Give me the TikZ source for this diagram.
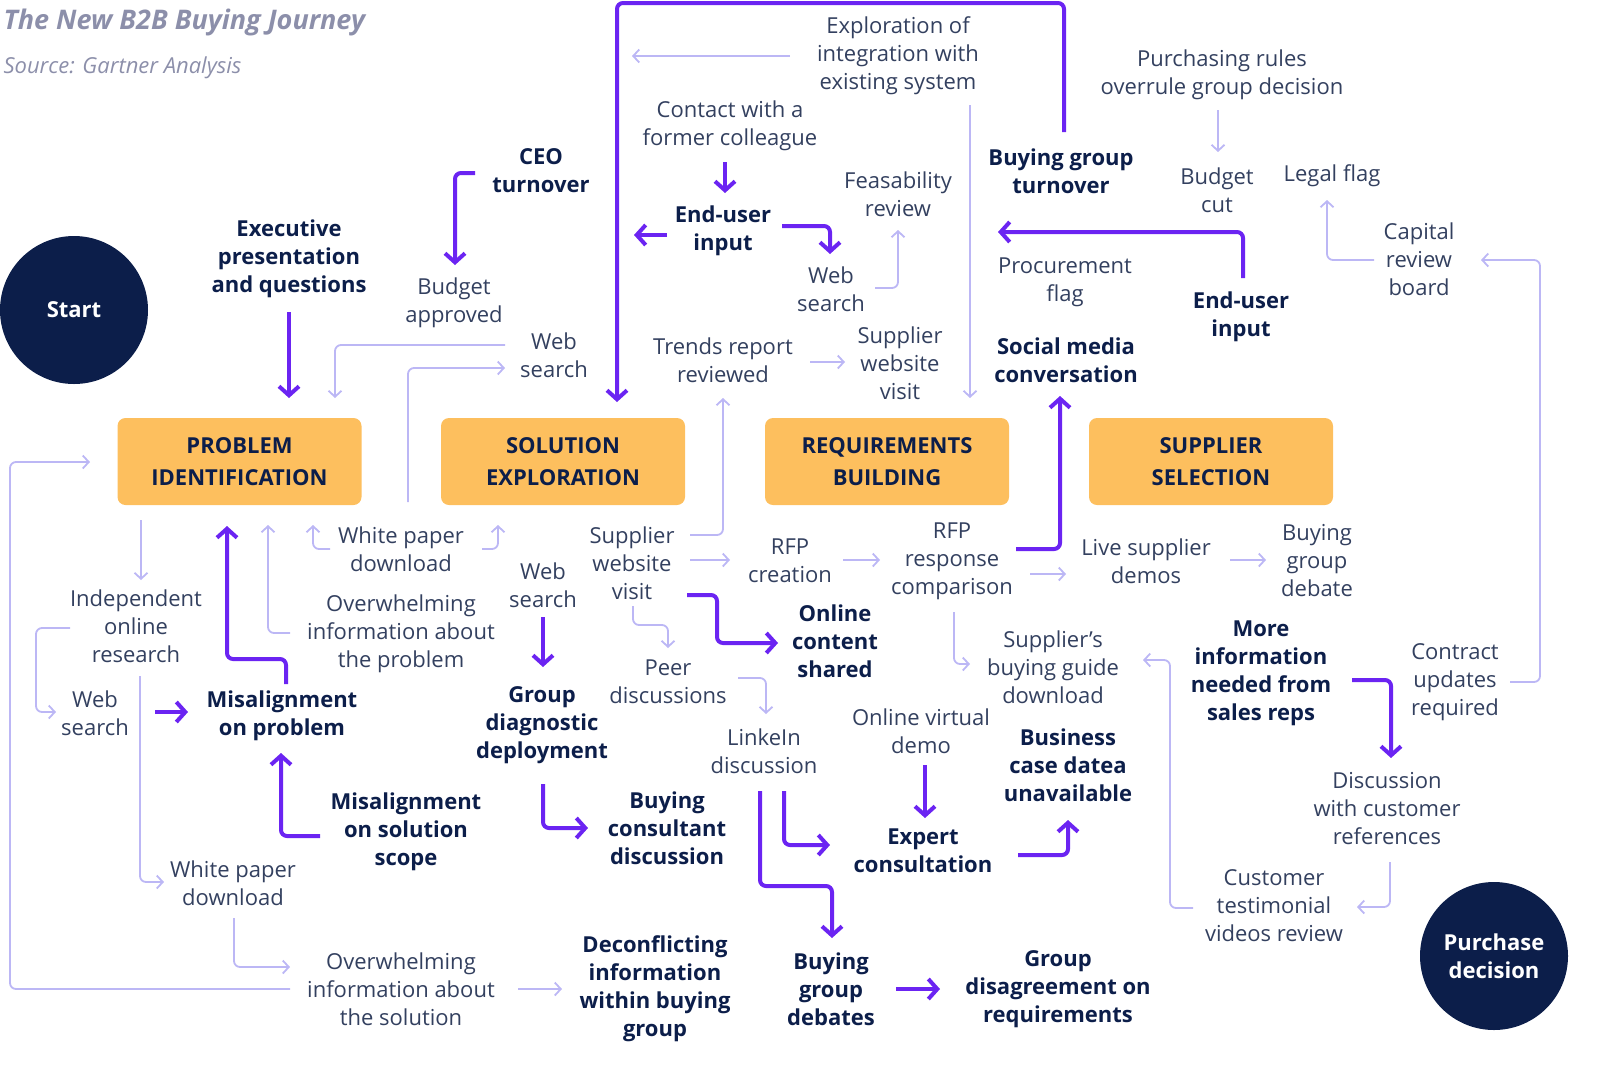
\documentclass[tikz,border=0pt]{standalone}
\usepackage{fontspec}
\setmainfont{Open Sans}
\usetikzlibrary{arrows.meta}
\definecolor{navy}{HTML}{0C1E4A}
\definecolor{txt}{HTML}{33405F}
\definecolor{pur}{HTML}{6B24F2}
\definecolor{lav}{HTML}{BCB7F5}
\definecolor{org}{HTML}{FDBF5E}
\definecolor{ttl}{HTML}{8C8FAA}
\begin{document}
\begin{tikzpicture}[x=1pt,y=-1pt,
 t/.style={align=center,text=txt,font=\fontsize{22}{28}\selectfont,inner sep=1pt},
 b/.style={align=center,text=navy,font=\bfseries\fontsize{22}{28}\selectfont,inner sep=1pt},
 box/.style={fill=org,rounded corners=8pt,minimum width=244pt,minimum height=87pt,align=center,text=navy,font=\bfseries\fontsize{22}{32}\selectfont},
 circ/.style={circle,fill=navy,minimum size=148pt,align=center,text=white,font=\bfseries\fontsize{22}{28}\selectfont},
 P/.style={draw=pur,line width=4pt,rounded corners=6pt,-{Straight Barb[length=9pt,width=20pt,line width=4pt]}},
 L/.style={draw=lav,line width=1.8pt,rounded corners=6pt,-{Straight Barb[length=6pt,width=13pt,line width=1.8pt]}}]
\useasboundingbox (0,0) rectangle (1600,1066);
\node[anchor=west,text=ttl,font=\bfseries\itshape\fontsize{27}{30}\selectfont] (title) at (0,22) {The New B2B Buying Journey};
\node[anchor=west,text=ttl,font=\itshape\fontsize{22}{28}\selectfont] (src) at (0,68) {Source: Gartner Analysis};
\node[circ] (start) at (74,310) {Start};
\node[circ] (pd) at (1494,956) {Purchase\\decision};
\node[box] (b1) at (239.5,461.5) {PROBLEM\\IDENTIFICATION};
\node[box] (b2) at (563,461.5) {SOLUTION\\EXPLORATION};
\node[box] (b3) at (887,461.5) {REQUIREMENTS\\BUILDING};
\node[box] (b4) at (1211,461.5) {SUPPLIER\\SELECTION};
% top
\node[b] (exec) at (289,259) {Executive\\presentation\\and questions};
\node[b] (ceo) at (541,171) {CEO\\turnover};
\node[t] (bapp) at (454,303) {Budget\\approved};
\node[t] (ws1) at (554,355) {Web\\search};
\node[t] (expl) at (898,56) {Exploration of\\integration with\\existing system};
\node[t] (cont) at (730,126) {Contact with a\\former colleague};
\node[b] (eu1) at (723,231) {End-user\\input};
\node[t] (feas) at (898,194) {Feasability\\review};
\node[t] (ws2) at (831,289) {Web\\search};
\node[t] (trend) at (723,360) {Trends report\\reviewed};
\node[t] (swv1) at (900,363) {Supplier\\website\\visit};
\node[b] (bgt) at (1061,171) {Buying group\\turnover};
\node[t] (proc) at (1065,282) {Procurement\\flag};
\node[b] (soc) at (1066,360) {Social media\\conversation};
\node[t] (prules) at (1222,75) {Purchasing rules\\overrule group decision};
\node[t] (bcut) at (1217,190) {Budget\\cut};
\node[t] (legal) at (1332,176) {Legal flag};
\node[b] (eu2) at (1241,317) {End-user\\input};
\node[t] (cap) at (1419,259) {Capital\\review\\board};
% bottom
\node[t] (ior) at (136,626) {Independent\\online\\research};
\node[t] (ws3) at (95,713) {Web\\search};
\node[b] (misp) at (282,716) {Misalignment\\on problem};
\node[t] (wp1) at (401,549) {White paper\\download};
\node[t] (ovp) at (401,634) {Overwhelming\\information about\\the problem};
\node[t] (ws4) at (543,585) {Web\\search};
\node[t] (swv2) at (632,563) {Supplier\\website\\visit};
\node[t] (peer) at (668,682) {Peer\\discussions};
\node[b] (gdd) at (542,725) {Group\\diagnostic\\deployment};
\node[b] (miss) at (406,832) {Misalignment\\on solution\\scope};
\node[t] (wp2) at (233,883) {White paper\\download};
\node[t] (ovs) at (401,989) {Overwhelming\\information about\\the solution};
\node[b] (dec) at (655,989) {Deconflicting\\information\\within buying\\group};
\node[t] (rfpc) at (790,561) {RFP\\creation};
\node[t] (rfpr) at (952,561) {RFP\\response\\comparison};
\node[b] (ocs) at (835,641) {Online\\content\\shared};
\node[t] (lnk) at (764,751) {LinkeIn\\discussion};
\node[b] (bcd) at (667,828) {Buying\\consultant\\discussion};
\node[t] (ovd) at (921,731) {Online virtual\\demo};
\node[b] (exp) at (923,851) {Expert\\consultation};
\node[b] (bcase) at (1068,765) {Business\\case datea\\unavailable};
\node[b] (bgd) at (831,989) {Buying\\group\\debates};
\node[b] (gdr) at (1058,989) {Group\\disagreement on\\requirements};
\node[t] (live) at (1146,561) {Live supplier\\demos};
\node[t] (bgdeb) at (1317,561) {Buying\\group\\debate};
\node[t] (sbg) at (1053,667) {Supplier’s\\buying guide\\download};
\node[b] (more) at (1261,673) {More\\information\\needed from\\sales reps};
\node[t] (cur) at (1455,682) {Contract\\updates\\required};
\node[t] (dcr) at (1387,809) {Discussion\\with customer\\references};
\node[t] (ctv) at (1274,906) {Customer\\testimonial\\videos review};
% thick purple
\draw[P] (289,312) -- (289,398);
\draw[P] (475,173) -- (455,173) -- (455,265);
\draw[P] (1064,132) -- (1064,3) -- (617,3) -- (617,402);
\draw[P] (725,162) -- (725,193);
\draw[P] (667,235) -- (634,235);
\draw[P] (782,226) -- (830,226) -- (830,254);
\draw[P] (1243,278) -- (1243,232) -- (998,232);
\draw[P] (1016,549) -- (1060,549) -- (1060,396);
\draw[P] (286,684) -- (286,659) -- (227,659) -- (227,526);
\draw[P] (155,712) -- (188,712);
\draw[P] (320,836) -- (281,836) -- (281,753);
\draw[P] (543,617) -- (543,667);
\draw[P] (687,595) -- (717,595) -- (717,643) -- (778,643);
\draw[P] (543,784) -- (543,828) -- (588,828);
\draw[P] (784,791) -- (784,845) -- (830,845);
\draw[P] (760,791) -- (760,886) -- (832,886) -- (832,938);
\draw[P] (925,765) -- (925,818);
\draw[P] (1018,855) -- (1068,855) -- (1068,820);
\draw[P] (896,989) -- (940,989);
\draw[P] (1352,680) -- (1391,680) -- (1391,758);
% thin lavender
\draw[L] (790,56) -- (632,56);
\draw[L] (970,105) -- (970,398);
\draw[L] (875,288) -- (898,288) -- (898,230);
\draw[L] (810,362) -- (845,362);
\draw[L] (505,345) -- (335,345) -- (335,398);
\draw[L] (408,502) -- (408,368) -- (505,368);
\draw[L] (1218,110) -- (1218,152);
\draw[L] (1374,260) -- (1327,260) -- (1327,200);
\draw[L] (1510,682) -- (1540,682) -- (1540,260) -- (1481,260);
\draw[L] (141,520) -- (141,580);
\draw[L] (70,628) -- (36,628) -- (36,712) -- (56,712);
\draw[L] (140,676) -- (140,882) -- (164,882);
\draw[L] (290,633) -- (268,633) -- (268,525);
\draw[L] (330,549) -- (313,549) -- (313,525);
\draw[L] (482,549) -- (498,549) -- (498,525);
\draw[L] (234,918) -- (234,967) -- (290,967);
\draw[L] (518,989) -- (562,989);
\draw[L] (290,989) -- (10,989) -- (10,462) -- (90,462);
\draw[L] (690,535) -- (723,535) -- (723,398);
\draw[L] (690,560) -- (730,560);
\draw[L] (633,606) -- (633,625) -- (668,625) -- (668,648);
\draw[L] (738,678) -- (766,678) -- (766,714);
\draw[L] (843,560) -- (880,560);
\draw[L] (1030,574) -- (1066,574);
\draw[L] (1230,560) -- (1266,560);
\draw[L] (954,612) -- (954,664) -- (970,664);
\draw[L] (1193,908) -- (1170,908) -- (1170,660) -- (1143,660);
\draw[L] (1390,862) -- (1390,907) -- (1357,907);
\end{tikzpicture}
\end{document}
